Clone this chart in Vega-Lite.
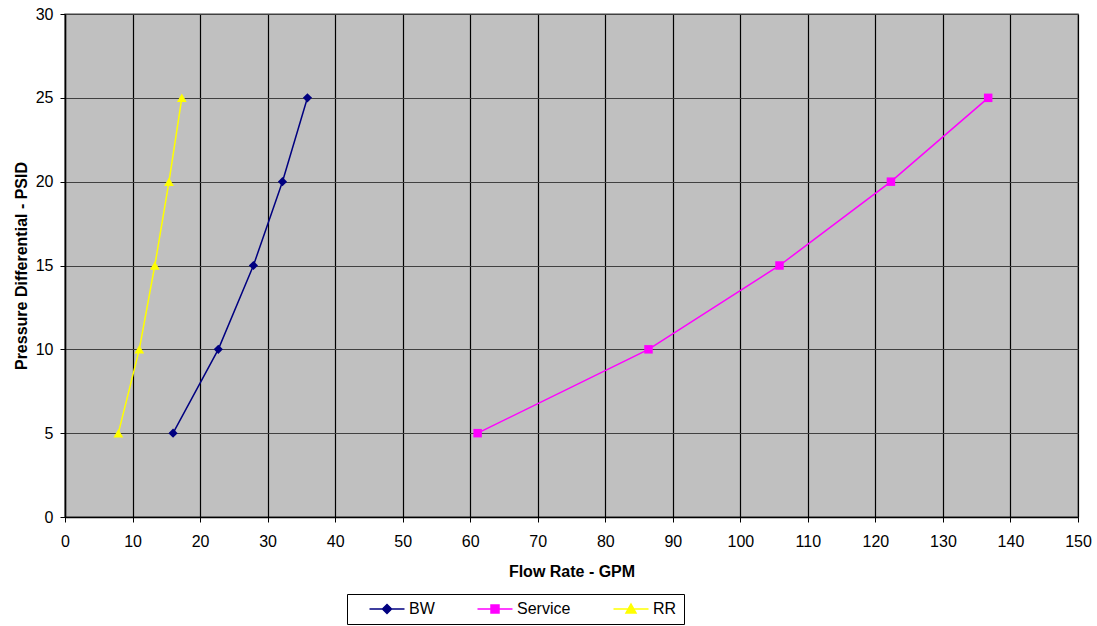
{
  "$schema": "https://vega.github.io/schema/vega-lite/v6.json",
  "autosize": "none",
  "width": 1013,
  "height": 503,
  "padding": {"left": 65, "top": 14, "right": 19, "bottom": 109},
  "background": "white",
  "config": {
    "font": "Liberation Sans",
    "view": {"fill": "#C0C0C0", "stroke": "#808080", "strokeWidth": 1.5},
    "axis": {
      "labelFont": "Liberation Sans",
      "titleFont": "Liberation Sans",
      "labelFontSize": 16,
      "titleFontSize": 16,
      "titleFontWeight": "bold",
      "labelColor": "#000",
      "titleColor": "#000",
      "domainColor": "#000",
      "domainWidth": 1.5,
      "tickColor": "#000",
      "tickSize": 5,
      "gridOpacity": 1
    },
    "legend": {
      "symbolStrokeWidth": 1.5,
      "labelFont": "Liberation Sans",
      "labelFontSize": 16,
      "labelColor": "#000"
    }
  },
  "datasets": {
    "pts": [
      {"series": "BW", "flow": 16.0, "psid": 5},
      {"series": "BW", "flow": 22.7, "psid": 10},
      {"series": "BW", "flow": 27.9, "psid": 15},
      {"series": "BW", "flow": 32.2, "psid": 20},
      {"series": "BW", "flow": 35.9, "psid": 25},
      {"series": "Service", "flow": 61.1, "psid": 5},
      {"series": "Service", "flow": 86.4, "psid": 10},
      {"series": "Service", "flow": 105.8, "psid": 15},
      {"series": "Service", "flow": 122.3, "psid": 20},
      {"series": "Service", "flow": 136.7, "psid": 25},
      {"series": "RR", "flow": 7.9, "psid": 5},
      {"series": "RR", "flow": 11.0, "psid": 10},
      {"series": "RR", "flow": 13.3, "psid": 15},
      {"series": "RR", "flow": 15.4, "psid": 20},
      {"series": "RR", "flow": 17.3, "psid": 25}
    ]
  },
  "data": {"name": "pts"},
  "encoding": {
    "x": {
      "field": "flow", "type": "quantitative",
      "scale": {"domain": [0, 150], "nice": false, "zero": true},
      "axis": {"title": "Flow Rate - GPM", "values": [0,10,20,30,40,50,60,70,80,90,100,110,120,130,140,150], "gridColor": "#000", "gridWidth": 1.2, "labelPadding": 11, "titlePadding": 14, "labelFlush": false, "labelOverlap": false}
    },
    "y": {
      "field": "psid", "type": "quantitative",
      "scale": {"domain": [0, 30], "nice": false},
      "axis": {"title": "Pressure Differential - PSID", "values": [0,5,10,15,20,25,30], "gridColor": "#404040", "gridWidth": 1.2, "labelPadding": 7, "titlePadding": 6, "labelFlush": false, "labelOverlap": false}
    }
  },
  "layer": [
    {
      "transform": [{"filter": "datum.series === 'BW'"}],
      "mark": {"type": "line", "color": "#000080", "strokeWidth": 1.5, "point": {"filled": true, "opacity": 1, "size": 85, "shape": "diamond", "color": "#000080"}},
      "encoding": {"order": {"field": "psid"}}
    },
    {
      "transform": [{"filter": "datum.series === 'Service'"}],
      "mark": {"type": "line", "color": "#FF00FF", "strokeWidth": 1.5, "point": {"filled": true, "opacity": 1, "size": 72, "shape": "square", "color": "#FF00FF"}},
      "encoding": {"order": {"field": "psid"}}
    },
    {
      "transform": [{"filter": "datum.series === 'RR'"}],
      "mark": {"type": "line", "color": "#FFFF00", "strokeWidth": 1.5, "point": {"filled": true, "opacity": 1, "size": 95, "shape": "triangle-up", "color": "#FFFF00"}},
      "encoding": {"order": {"field": "psid"}}
    },
    {
      "mark": {"type": "point", "filled": true, "opacity": 1, "strokeWidth": 1.5, "size": 0},
      "encoding": {
        "fill": {"field": "series", "type": "nominal", "scale": {"domain": ["BW", "Service", "RR"], "range": ["#000080", "#FF00FF", "#FFFF00"]},
          "legend": {"title": null, "orient": "none", "direction": "horizontal", "legendX": 282, "legendY": 580, "columns": 3, "columnPadding": 27, "padding": 7, "strokeColor": "#000", "fillColor": "#fff", "symbolSize": 100, "symbolOffset": 25, "labelOffset": 14, "symbolStrokeWidth": 1.5}},
        "stroke": {"field": "series", "type": "nominal", "scale": {"domain": ["BW", "Service", "RR"], "range": ["#000080", "#FF00FF", "#FFFF00"]},
          "legend": {"title": null, "orient": "none", "direction": "horizontal", "legendX": 282, "legendY": 580, "columns": 3, "columnPadding": 27, "padding": 7, "strokeColor": "#000", "fillColor": "#fff", "symbolSize": 100, "symbolOffset": 25, "labelOffset": 14, "symbolStrokeWidth": 1.5}},
        "shape": {"field": "series", "type": "nominal", "scale": {"domain": ["BW", "Service", "RR"], "range": ["M-3.5,0H3.5M0,-0.9L0.9,0L0,0.9L-0.9,0Z", "M-3.5,0H3.5M-0.8,-0.8H0.8V0.8H-0.8Z", "M-3.5,0H3.5M0,-1L1,0.8L-1,0.8Z"]},
          "legend": {"title": null, "orient": "none", "direction": "horizontal", "legendX": 282, "legendY": 580, "columns": 3, "columnPadding": 27, "padding": 7, "strokeColor": "#000", "fillColor": "#fff", "symbolSize": 100, "symbolOffset": 25, "labelOffset": 14, "symbolStrokeWidth": 1.5}}
      }
    }
  ]
}
